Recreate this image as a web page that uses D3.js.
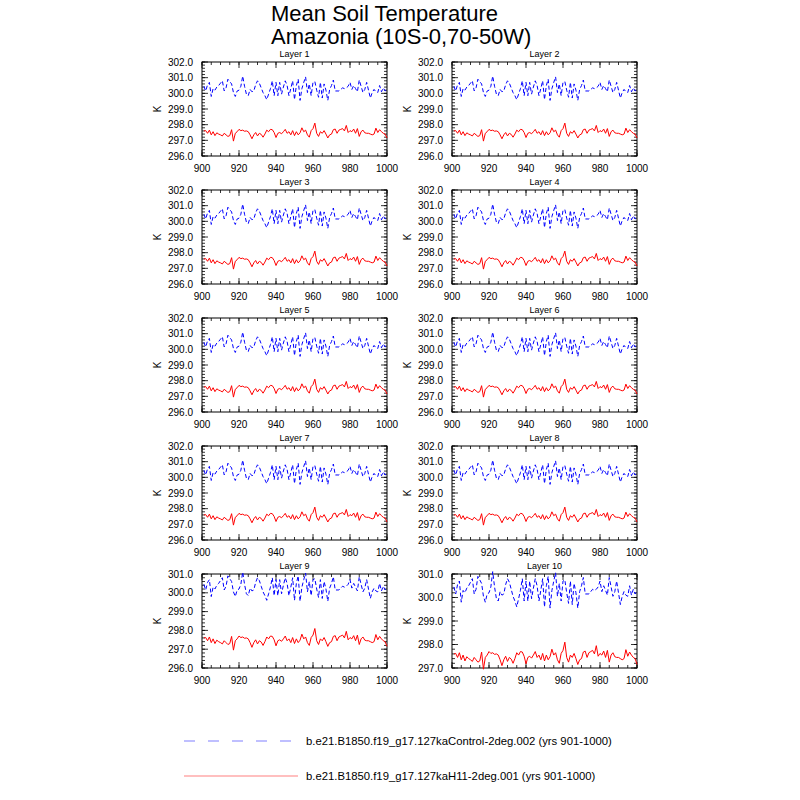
<!DOCTYPE html>
<html><head><meta charset="utf-8">
<script src="https://cdn.jsdelivr.net/npm/d3@7"></script>
<style>body{margin:0;background:#fff;} text{font-family:"Liberation Sans",Arial,sans-serif;}</style>
</head><body><svg id="c" width="800" height="800"></svg>
<script>
const years = d3.range(901, 1001);
const control = [300.45,300.15,300.55,300.70,299.80,300.30,300.20,300.40,300.50,300.65,
300.80,300.15,300.35,300.90,300.75,300.60,300.05,299.80,300.15,300.20,
300.45,301.10,300.45,299.95,299.85,300.25,300.10,300.15,300.55,300.80,
300.65,300.35,300.05,299.85,299.60,299.95,300.30,300.80,299.85,300.70,
299.85,300.70,299.95,300.40,300.80,300.50,299.85,300.30,300.80,299.60,
300.50,300.90,299.55,300.30,300.70,301.05,300.05,300.60,299.85,300.70,
300.75,300.20,299.75,300.70,299.70,300.60,300.20,299.55,300.25,300.50,
300.85,300.15,300.15,300.15,300.25,300.35,300.30,300.35,300.45,300.70,
300.25,300.50,300.30,300.10,300.85,300.45,300.05,300.25,300.70,300.20,
299.70,300.05,300.25,300.10,300.05,300.50,300.10,300.35,300.15,300.25];
const h11 = [297.60,297.62,297.45,297.65,297.35,297.55,297.30,297.48,297.40,297.35,
297.28,297.45,297.35,297.25,297.30,297.68,296.95,297.45,297.55,297.70,
297.62,297.65,297.58,297.60,297.55,297.35,297.10,297.35,297.50,297.28,
297.45,297.38,297.20,297.40,297.65,297.55,297.70,297.68,297.50,297.18,
297.45,297.50,297.42,297.55,297.70,297.45,297.55,297.35,297.62,297.30,
297.55,297.35,297.48,297.80,297.55,297.65,297.35,297.20,297.62,297.75,
298.10,297.45,297.25,297.55,297.45,297.62,297.40,297.15,297.35,297.40,
297.68,297.72,297.45,297.65,297.70,297.75,297.60,297.95,297.50,297.62,
297.55,297.72,297.45,297.75,297.25,297.55,297.65,297.48,297.45,297.45,
297.40,297.35,297.40,297.78,297.50,297.68,297.55,297.45,297.40,297.15];
const layers = ["Layer 1","Layer 2","Layer 3","Layer 4","Layer 5","Layer 6","Layer 7","Layer 8","Layer 9","Layer 10"];
const yMins = [296,296,296,296,296,296,296,296,296,297];
const yMaxs = [302,302,302,302,302,302,302,302,301,301];
const xTicks = [900,920,940,960,980,1000];
const legendLabels = ["b.e21.B1850.f19_g17.127kaControl-2deg.002 (yrs 901-1000)","b.e21.B1850.f19_g17.127kaH11-2deg.001 (yrs 901-1000)"];
const titleLines = ["Mean Soil Temperature","Amazonia (10S-0,70-50W)"];

const svg = d3.select("#c");
svg.selectAll("text.title").data(titleLines).enter().append("text")
  .attr("x",271).attr("y",(d,i)=>21+i*23).attr("text-anchor","start")
  .attr("font-size",22).text(d=>d);

const W=185, H=94;
const lefts=[202,452];
const tops=[62,190,318,446,574];

layers.forEach((name,i)=>{
  const x0=lefts[i%2], y0=tops[Math.floor(i/2)];
  const g=svg.append("g").attr("transform",`translate(${x0},${y0})`);
  const x=d3.scaleLinear().domain([900,1000]).range([0,W]);
  const y=d3.scaleLinear().domain([yMins[i],yMaxs[i]]).range([H,0]);
  const yMaj=d3.range(yMins[i],yMaxs[i]+0.001,1);
  const yMin=d3.range(yMins[i],yMaxs[i]+0.001,0.2);
  const xMin=d3.range(900,1001,5);
  const ax=g.append("g").attr("stroke","#000").attr("stroke-width",0.8);
  yMin.forEach(v=>{
    ax.append("line").attr("x1",0).attr("x2",3).attr("y1",y(v)).attr("y2",y(v));
    ax.append("line").attr("x1",W).attr("x2",W-3).attr("y1",y(v)).attr("y2",y(v));
  });
  yMaj.forEach(v=>{
    ax.append("line").attr("x1",0).attr("x2",6).attr("y1",y(v)).attr("y2",y(v));
    ax.append("line").attr("x1",W).attr("x2",W-6).attr("y1",y(v)).attr("y2",y(v));
  });
  xMin.forEach(v=>{
    ax.append("line").attr("x1",x(v)).attr("x2",x(v)).attr("y1",H).attr("y2",H-3);
    ax.append("line").attr("x1",x(v)).attr("x2",x(v)).attr("y1",0).attr("y2",3);
  });
  xTicks.forEach(v=>{
    ax.append("line").attr("x1",x(v)).attr("x2",x(v)).attr("y1",H).attr("y2",H-6);
    ax.append("line").attr("x1",x(v)).attr("x2",x(v)).attr("y1",0).attr("y2",6);
  });
  g.append("rect").attr("width",W).attr("height",H).attr("fill","none").attr("stroke","#000").attr("stroke-width",1);
  g.selectAll("text.yt").data(yMaj).enter().append("text")
    .attr("x",-9).attr("y",d=>y(d)+3.5).attr("text-anchor","end").attr("font-size",10).text(d=>d.toFixed(1));
  g.selectAll("text.xt").data(xTicks).enter().append("text")
    .attr("x",d=>x(d)).attr("y",H+16).attr("text-anchor","middle").attr("font-size",10).text(d=>d);
  g.append("text").attr("transform",`translate(-41,${H/2}) rotate(-90)`).attr("text-anchor","middle").attr("font-size",10).text("K");
  g.append("text").attr("x",W/2).attr("y",-5).attr("text-anchor","middle").attr("font-size",9).text(name);
  const line=d3.line().x((d,j)=>x(years[j])).y(d=>y(d));
  g.append("path").datum(h11).attr("d",line).attr("fill","none").attr("stroke","#ff0000").attr("stroke-width",1);
  g.append("path").datum(control).attr("d",line).attr("fill","none").attr("stroke","#0000ff").attr("stroke-width",1).attr("stroke-dasharray","4,2.5");
});

// legend
svg.append("line").attr("x1",184).attr("x2",292).attr("y1",741).attr("y2",741)
  .attr("stroke","#aaaaff").attr("stroke-width",1.3).attr("stroke-dasharray","11,13");
svg.append("line").attr("x1",184).attr("x2",298).attr("y1",776).attr("y2",776)
  .attr("stroke","#ffaaaa").attr("stroke-width",1.3);
svg.selectAll("text.leg").data(legendLabels).enter().append("text")
  .attr("x",306).attr("y",(d,i)=>745+i*35).attr("font-size",11.3).text(d=>d);
</script></body></html>
